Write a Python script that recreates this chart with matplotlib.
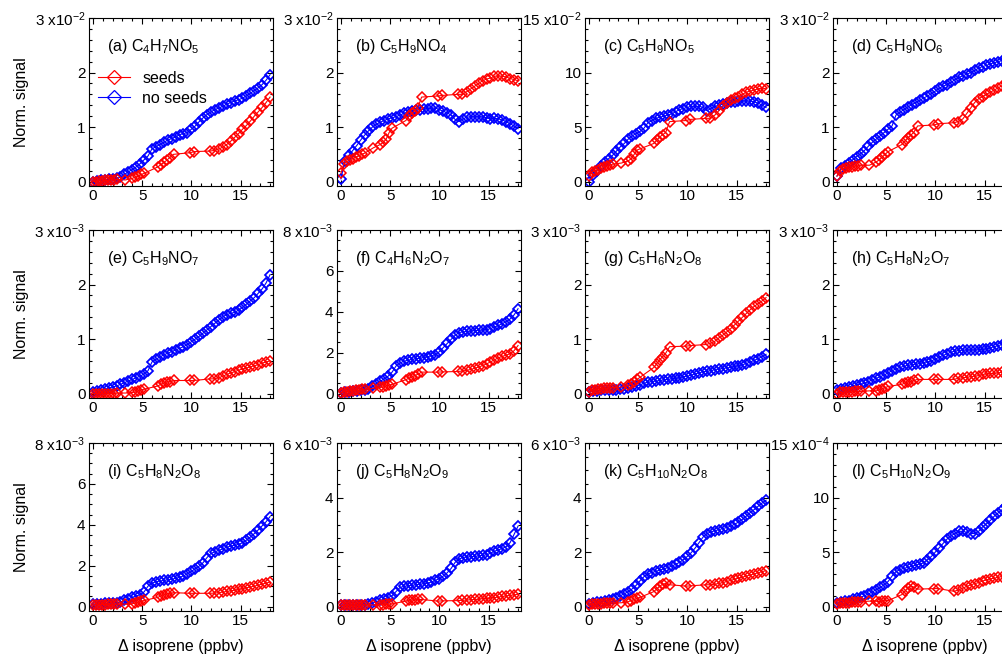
import numpy as np
import matplotlib
matplotlib.use("Agg")
import matplotlib.pyplot as plt
from matplotlib.lines import Line2D
from matplotlib.ticker import MultipleLocator

plt.rcParams['font.family'] = ['Liberation Sans', 'DejaVu Sans']
plt.rcParams['mathtext.fontset'] = 'custom'
plt.rcParams['mathtext.rm'] = 'Liberation Sans'
plt.rcParams['mathtext.it'] = 'Liberation Sans:italic'
plt.rcParams['mathtext.default'] = 'regular'

# eixo x compartilhado (Δ isoprene, ppbv)
X_NOSEEDS = [0.0, 0.4, 0.8, 1.2, 1.6, 2.0, 2.4, 2.8, 3.2, 3.6, 4.0, 4.4, 4.8, 5.2, 5.6,
             6.0, 6.4, 6.8, 7.2, 7.6, 8.0, 8.4, 8.8, 9.2, 9.6, 10.0, 10.4, 10.8, 11.2, 11.6,
             12.0, 12.4, 12.8, 13.2, 13.6, 14.0, 14.4, 14.8, 15.2, 15.6, 16.0, 16.4, 16.8,
             17.2, 17.6, 18.0]
X_SEEDS = [0.0, 0.3, 0.6, 0.9, 1.2, 1.5, 1.8, 2.1, 2.4, 3.3, 4.0, 4.3, 4.6, 4.9, 5.2,
           6.6, 6.9, 7.2, 7.5, 7.8, 8.2, 9.9, 10.3, 11.9, 12.3, 12.8, 13.2, 13.6, 14.0,
           14.4, 14.8, 15.2, 15.6, 16.0, 16.4, 16.8, 17.2, 17.6, 18.0]

# (a) C4H7NO5  (x1e-2)
A_NOSEEDS = [0.0, 0.01, 0.02, 0.03, 0.04, 0.05, 0.06, 0.08, 0.13, 0.18, 0.22, 0.27, 0.33, 0.40, 0.47,
             0.60, 0.64, 0.68, 0.72, 0.76, 0.79, 0.82, 0.86, 0.88, 0.90, 0.96, 1.02, 1.10, 1.17, 1.23,
             1.28, 1.32, 1.35, 1.38, 1.42, 1.45, 1.48, 1.50, 1.53, 1.57, 1.62, 1.67, 1.72, 1.78, 1.86, 1.96]
A_SEEDS = [0.0, 0.0, 0.01, 0.01, 0.02, 0.02, 0.03, 0.03, 0.04, 0.03, 0.06, 0.08, 0.10, 0.13, 0.15,
           0.27, 0.31, 0.35, 0.39, 0.44, 0.50, 0.53, 0.55, 0.56, 0.57, 0.60, 0.63, 0.68, 0.74,
           0.81, 0.88, 0.96, 1.03, 1.11, 1.20, 1.28, 1.36, 1.45, 1.55]
# (b) C5H9NO4  (x1e-2)
B_NOSEEDS = [0.05, 0.38, 0.48, 0.57, 0.66, 0.76, 0.85, 0.93, 1.00, 1.05, 1.09, 1.12, 1.15, 1.17, 1.19,
             1.22, 1.25, 1.28, 1.30, 1.31, 1.32, 1.33, 1.34, 1.35, 1.35, 1.32, 1.29, 1.26, 1.22, 1.14,
             1.10, 1.15, 1.18, 1.19, 1.19, 1.19, 1.19, 1.17, 1.15, 1.16, 1.15, 1.13, 1.10, 1.06, 1.02, 0.97]
B_SEEDS = [0.15, 0.33, 0.37, 0.40, 0.42, 0.45, 0.47, 0.50, 0.52, 0.62, 0.68, 0.72, 0.78, 0.90, 0.98,
           1.12, 1.20, 1.25, 1.30, 1.35, 1.55, 1.57, 1.58, 1.60, 1.60, 1.65, 1.70, 1.75, 1.80,
           1.85, 1.88, 1.90, 1.93, 1.94, 1.93, 1.92, 1.89, 1.87, 1.85]
# (c) C5H9NO5  (x1e-2)
C_NOSEEDS = [0.0, 0.6, 1.0, 1.4, 1.8, 2.1, 2.4, 2.8, 3.2, 3.5, 3.9, 4.2, 4.4, 4.6, 4.9,
             5.4, 5.6, 5.8, 5.9, 6.0, 6.1, 6.2, 6.4, 6.6, 6.7, 6.8, 6.9, 6.9, 6.9, 6.8,
             6.5, 6.7, 6.9, 7.0, 7.1, 7.2, 7.3, 7.3, 7.4, 7.4, 7.4, 7.4, 7.3, 7.2, 7.0, 6.8]
C_SEEDS = [0.5, 0.9, 1.0, 1.1, 1.2, 1.3, 1.4, 1.5, 1.6, 1.7, 1.9, 2.1, 2.5, 2.9, 3.0,
           3.5, 3.8, 4.1, 4.3, 4.5, 5.5, 5.6, 5.7, 5.8, 5.8, 6.1, 6.5, 6.9, 7.2,
           7.5, 7.7, 7.8, 8.0, 8.2, 8.3, 8.4, 8.5, 8.6, 8.5]
# (d) C5H9NO6  (x1e-2)
D_NOSEEDS = [0.10, 0.24, 0.29, 0.34, 0.40, 0.46, 0.51, 0.57, 0.65, 0.72, 0.78, 0.84, 0.90, 0.96, 1.02,
             1.22, 1.27, 1.32, 1.37, 1.41, 1.45, 1.49, 1.53, 1.57, 1.61, 1.66, 1.71, 1.75, 1.78, 1.82,
             1.87, 1.91, 1.94, 1.97, 2.00, 2.04, 2.08, 2.11, 2.13, 2.16, 2.18, 2.20, 2.22, 2.24, 2.26, 2.28]
D_SEEDS = [0.10, 0.20, 0.23, 0.25, 0.26, 0.27, 0.28, 0.29, 0.30, 0.30, 0.36, 0.40, 0.45, 0.50, 0.55,
           0.68, 0.74, 0.80, 0.85, 0.90, 1.02, 1.04, 1.06, 1.08, 1.10, 1.15, 1.25, 1.35, 1.45,
           1.52, 1.56, 1.60, 1.64, 1.68, 1.72, 1.76, 1.80, 1.84, 1.88]
# (e) C5H9NO7  (x1e-3)
E_NOSEEDS = [0.02, 0.04, 0.06, 0.08, 0.10, 0.12, 0.14, 0.17, 0.20, 0.23, 0.26, 0.29, 0.32, 0.36, 0.42,
             0.58, 0.63, 0.67, 0.71, 0.74, 0.77, 0.80, 0.83, 0.86, 0.90, 0.95, 1.00, 1.05, 1.11, 1.17,
             1.23, 1.29, 1.35, 1.41, 1.45, 1.47, 1.49, 1.53, 1.58, 1.64, 1.70, 1.76, 1.84, 1.92, 2.03, 2.18]
E_SEEDS = [0.0, 0.0, 0.0, 0.0, 0.0, 0.0, 0.0, 0.0, 0.01, 0.01, 0.02, 0.03, 0.05, 0.07, 0.08,
           0.14, 0.17, 0.19, 0.21, 0.22, 0.24, 0.24, 0.24, 0.27, 0.27, 0.29, 0.32, 0.35, 0.38,
           0.40, 0.43, 0.45, 0.47, 0.49, 0.51, 0.53, 0.56, 0.58, 0.60]
# (f) C4H6N2O7  (x1e-3)
F_NOSEEDS = [0.05, 0.08, 0.10, 0.12, 0.14, 0.16, 0.18, 0.22, 0.35, 0.48, 0.60, 0.72, 0.85, 1.05, 1.35,
             1.50, 1.58, 1.63, 1.67, 1.70, 1.73, 1.76, 1.80, 1.85, 1.90, 2.05, 2.25, 2.45, 2.65, 2.85,
             2.98, 3.02, 3.04, 3.06, 3.08, 3.10, 3.12, 3.13, 3.18, 3.25, 3.33, 3.42, 3.52, 3.65, 3.85, 4.15]
F_SEEDS = [0.05, 0.08, 0.10, 0.12, 0.14, 0.16, 0.18, 0.20, 0.22, 0.26, 0.30, 0.33, 0.38, 0.42, 0.45,
           0.68, 0.75, 0.82, 0.88, 0.94, 1.05, 1.05, 1.06, 1.08, 1.10, 1.14, 1.18, 1.24, 1.30,
           1.37, 1.45, 1.55, 1.65, 1.75, 1.82, 1.88, 1.95, 2.10, 2.35]
# (g) C5H6N2O8  (x1e-3)
G_NOSEEDS = [0.03, 0.05, 0.05, 0.06, 0.06, 0.06, 0.07, 0.07, 0.08, 0.09, 0.10, 0.12, 0.14, 0.16, 0.19,
             0.21, 0.22, 0.23, 0.24, 0.25, 0.26, 0.27, 0.28, 0.29, 0.31, 0.32, 0.34, 0.36, 0.38, 0.40,
             0.41, 0.42, 0.44, 0.45, 0.46, 0.47, 0.48, 0.50, 0.51, 0.53, 0.55, 0.58, 0.61, 0.64, 0.68, 0.72]
G_SEEDS = [0.03, 0.06, 0.07, 0.08, 0.09, 0.10, 0.10, 0.11, 0.11, 0.12, 0.15, 0.18, 0.22, 0.26, 0.30,
           0.48, 0.55, 0.62, 0.68, 0.74, 0.86, 0.87, 0.88, 0.90, 0.92, 0.96, 1.02, 1.07, 1.13,
           1.19, 1.26, 1.33, 1.40, 1.47, 1.54, 1.60, 1.65, 1.70, 1.76]
# (h) C5H8N2O7  (x1e-3)
H_NOSEEDS = [0.06, 0.08, 0.10, 0.12, 0.14, 0.16, 0.17, 0.19, 0.22, 0.25, 0.28, 0.31, 0.34, 0.38, 0.42,
             0.45, 0.48, 0.50, 0.52, 0.53, 0.54, 0.55, 0.57, 0.58, 0.60, 0.63, 0.67, 0.70, 0.73, 0.76,
             0.78, 0.79, 0.80, 0.80, 0.80, 0.80, 0.80, 0.81, 0.82, 0.84, 0.86, 0.88, 0.90, 0.92, 0.94, 0.96]
H_SEEDS = [0.0, 0.02, 0.02, 0.03, 0.03, 0.03, 0.04, 0.04, 0.04, 0.05, 0.05, 0.07, 0.09, 0.11, 0.13,
           0.17, 0.19, 0.21, 0.22, 0.24, 0.26, 0.26, 0.26, 0.26, 0.28, 0.29, 0.30, 0.31, 0.32,
           0.33, 0.35, 0.36, 0.37, 0.37, 0.38, 0.39, 0.40, 0.41, 0.42]
# (i) C5H8N2O8  (x1e-3)
I_NOSEEDS = [0.12, 0.14, 0.15, 0.16, 0.17, 0.18, 0.19, 0.22, 0.30, 0.38, 0.45, 0.52, 0.58, 0.72, 1.00,
             1.15, 1.21, 1.25, 1.28, 1.31, 1.34, 1.38, 1.43, 1.50, 1.60, 1.72, 1.85, 1.98, 2.15, 2.40,
             2.60, 2.68, 2.75, 2.82, 2.90, 2.96, 3.00, 3.04, 3.12, 3.25, 3.40, 3.57, 3.75, 3.95, 4.15, 4.40]
I_SEEDS = [0.08, 0.09, 0.10, 0.10, 0.10, 0.11, 0.11, 0.11, 0.12, 0.12, 0.14, 0.17, 0.21, 0.25, 0.30,
           0.45, 0.52, 0.58, 0.62, 0.65, 0.68, 0.65, 0.65, 0.65, 0.66, 0.68, 0.71, 0.74, 0.77,
           0.80, 0.84, 0.88, 0.92, 0.96, 1.00, 1.05, 1.10, 1.15, 1.20]
# (j) C5H8N2O9  (x1e-3)
J_NOSEEDS = [0.04, 0.05, 0.05, 0.06, 0.06, 0.07, 0.07, 0.08, 0.13, 0.18, 0.23, 0.28, 0.33, 0.40, 0.55,
             0.70, 0.74, 0.76, 0.78, 0.80, 0.82, 0.84, 0.86, 0.90, 0.96, 1.03, 1.12, 1.24, 1.40, 1.62,
             1.74, 1.80, 1.82, 1.83, 1.84, 1.86, 1.88, 1.90, 1.96, 2.03, 2.08, 2.13, 2.20, 2.35, 2.65, 2.95]
J_SEEDS = [0.04, 0.05, 0.05, 0.05, 0.05, 0.06, 0.06, 0.06, 0.06, 0.06, 0.07, 0.07, 0.08, 0.09, 0.10,
           0.20, 0.23, 0.24, 0.25, 0.26, 0.26, 0.20, 0.21, 0.22, 0.23, 0.24, 0.25, 0.26, 0.27,
           0.29, 0.30, 0.32, 0.33, 0.35, 0.37, 0.39, 0.41, 0.43, 0.45]
# (k) C5H10N2O8  (x1e-3)
K_NOSEEDS = [0.08, 0.12, 0.15, 0.18, 0.21, 0.25, 0.29, 0.33, 0.40, 0.47, 0.55, 0.65, 0.78, 0.95, 1.10,
             1.20, 1.25, 1.29, 1.34, 1.38, 1.43, 1.48, 1.55, 1.62, 1.72, 1.84, 1.98, 2.15, 2.35, 2.55,
             2.68, 2.74, 2.78, 2.82, 2.86, 2.90, 2.95, 3.02, 3.10, 3.20, 3.32, 3.45, 3.56, 3.68, 3.80, 3.90]
K_SEEDS = [0.05, 0.08, 0.10, 0.10, 0.11, 0.12, 0.12, 0.13, 0.13, 0.14, 0.18, 0.22, 0.26, 0.30, 0.34,
           0.55, 0.65, 0.75, 0.82, 0.85, 0.80, 0.75, 0.76, 0.80, 0.80, 0.82, 0.85, 0.88, 0.92,
           0.96, 1.00, 1.05, 1.08, 1.12, 1.16, 1.20, 1.24, 1.28, 1.32]
# (l) C5H10N2O9  (x1e-4)
L_NOSEEDS = [0.3, 0.4, 0.5, 0.55, 0.65, 0.75, 0.85, 1.0, 1.15, 1.35, 1.55, 1.75, 2.0, 2.3, 2.8,
             3.2, 3.4, 3.5, 3.6, 3.7, 3.8, 3.9, 4.0, 4.3, 4.6, 5.0, 5.4, 5.8, 6.2, 6.5,
             6.7, 6.9, 6.9, 6.8, 6.7, 6.7, 6.9, 7.3, 7.6, 7.9, 8.3, 8.6, 8.9, 9.2, 9.5, 9.8]
L_SEEDS = [0.2, 0.3, 0.3, 0.35, 0.35, 0.4, 0.4, 0.45, 0.45, 0.5, 0.5, 0.45, 0.5, 0.55, 0.55,
           1.1, 1.4, 1.7, 1.9, 1.8, 1.6, 1.65, 1.65, 1.4, 1.5, 1.7, 1.85, 2.0, 2.1,
           2.2, 2.35, 2.45, 2.55, 2.6, 2.7, 2.75, 2.85, 2.95, 3.0]

NOSEEDS = [A_NOSEEDS, B_NOSEEDS, C_NOSEEDS, D_NOSEEDS, E_NOSEEDS, F_NOSEEDS,
           G_NOSEEDS, H_NOSEEDS, I_NOSEEDS, J_NOSEEDS, K_NOSEEDS, L_NOSEEDS]
SEEDS = [A_SEEDS, B_SEEDS, C_SEEDS, D_SEEDS, E_SEEDS, F_SEEDS,
         G_SEEDS, H_SEEDS, I_SEEDS, J_SEEDS, K_SEEDS, L_SEEDS]

TITULOS = ['(a) C$_4$H$_7$NO$_5$', '(b) C$_5$H$_9$NO$_4$', '(c) C$_5$H$_9$NO$_5$',
           '(d) C$_5$H$_9$NO$_6$', '(e) C$_5$H$_9$NO$_7$', '(f) C$_4$H$_6$N$_2$O$_7$',
           '(g) C$_5$H$_6$N$_2$O$_8$', '(h) C$_5$H$_8$N$_2$O$_7$', '(i) C$_5$H$_8$N$_2$O$_8$',
           '(j) C$_5$H$_8$N$_2$O$_9$', '(k) C$_5$H$_{10}$N$_2$O$_8$', '(l) C$_5$H$_{10}$N$_2$O$_9$']
Y_MAX = [3, 3, 15, 3, 3, 8, 3, 3, 8, 6, 6, 15]
Y_STEP = [1, 1, 5, 1, 1, 2, 1, 1, 2, 2, 2, 5]
Y_EXP = [-2, -2, -2, -2, -3, -3, -3, -3, -3, -3, -3, -4]

VERMELHO = '#ff0000'
AZUL = '#0000ff'
FS = 11.5     # textos
FS_TICK = 11  # números dos eixos

W, H = 1003, 656
fig = plt.figure(figsize=(W / 100, H / 100), dpi=100)

col_left = [89, 337, 585, 833]
row_top = [18, 230, 443]
ax_w, ax_h = 184, 168

for i in range(12):
    r, c = divmod(i, 4)
    ax = fig.add_axes([col_left[c] / W, 1 - (row_top[r] + ax_h) / H, ax_w / W, ax_h / H])
    # série sem sementes primeiro, com sementes por cima
    ax.plot(X_NOSEEDS, NOSEEDS[i], color=AZUL, lw=0.8, marker='D', ms=5.0,
            mfc='none', mew=1.25)
    ax.plot(X_SEEDS, SEEDS[i], color=VERMELHO, lw=0.8, marker='D', ms=5.0,
            mfc='none', mew=1.1)

    ymax = Y_MAX[i]
    ax.set_xlim(-0.4, 18.3)
    ax.set_ylim(-0.027 * ymax, ymax)
    ticks = np.arange(0, ymax + Y_STEP[i] / 2, Y_STEP[i])
    labels = ['%d' % t for t in ticks]
    labels[-1] = '%d x10$^{%d}$' % (ticks[-1], Y_EXP[i])
    ax.set_yticks(ticks)
    ax.set_yticklabels(labels)
    ax.set_xticks([0, 5, 10, 15])
    ax.xaxis.set_minor_locator(MultipleLocator(1))
    ax.yaxis.set_minor_locator(MultipleLocator(Y_STEP[i] / (5 if Y_STEP[i] != 2 else 4)))
    ax.tick_params(which='both', direction='in', top=True, right=True,
                   labelsize=FS_TICK, pad=2.5, width=0.8)
    ax.tick_params(which='major', length=4)
    ax.tick_params(which='minor', length=2)
    for s in ax.spines.values():
        s.set_linewidth(0.8)

    ax.text(0.10, 0.83, TITULOS[i], transform=ax.transAxes, fontsize=FS,
            ha='left', va='center')

    if i == 0:
        handles = [Line2D([], [], color=VERMELHO, lw=0.8, marker='D', ms=7.5, mfc='none', mew=0.9),
                   Line2D([], [], color=AZUL, lw=0.8, marker='D', ms=7.5, mfc='none', mew=0.9)]
        ax.legend(handles, ['seeds', 'no seeds'], loc='upper left', bbox_to_anchor=(0.05, 0.685),
                  frameon=False, fontsize=FS, handlelength=2.0, handletextpad=0.75,
                  labelspacing=0.3, borderpad=0, borderaxespad=0)

    if c == 0:
        fig.text(22 / W, 1 - (row_top[r] + ax_h / 2) / H, 'Norm. signal', rotation=90,
                 ha='center', va='center', fontsize=FS)
    if r == 2:
        fig.text((col_left[c] + ax_w / 2) / W, 1 - 647 / H, '\u0394 isoprene (ppbv)',
                 ha='center', va='center', fontsize=FS)

fig.savefig('out.png', dpi=100)
